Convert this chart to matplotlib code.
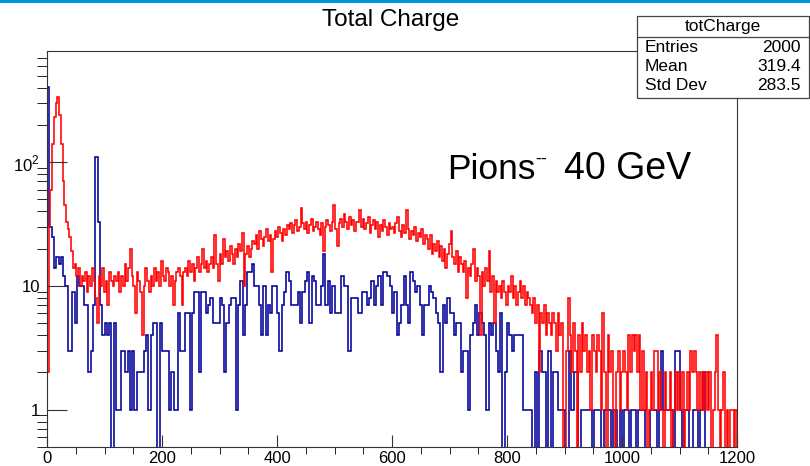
import numpy as np
import matplotlib
matplotlib.use('Agg')
from matplotlib import pyplot as plt
from matplotlib.patches import Rectangle
from matplotlib.ticker import FixedLocator, FixedFormatter, MultipleLocator

plt.rcParams['font.family'] = ['Liberation Sans', 'DejaVu Sans']
plt.rcParams['mathtext.fontset'] = 'custom'
plt.rcParams['mathtext.rm'] = 'Liberation Sans'

# x range of both histograms
xmin, xmax = 0, 1200

# totCharge (blue), 300 bins of width 4
blue_counts = [
    405, 30, 25, 14, 17, 15, 17, 12, 10, 3, 3, 9, 5, 12, 10, 10, 7, 7, 2, 3,
    7, 111, 33, 7, 4, 5, 4, 5, 0, 5, 1, 1, 3, 3, 2, 3, 1, 3, 1, 2,
    2, 2, 3, 4, 1, 4, 5, 5, 0, 5, 3, 3, 3, 1, 2, 1, 1, 6, 3, 3,
    6, 6, 1, 6, 9, 9, 2, 9, 9, 6, 7, 8, 5, 5, 5, 8, 7, 2, 5, 7,
    8, 8, 1, 7, 11, 4, 7, 13, 13, 15, 10, 10, 7, 4, 10, 4, 7, 6, 10, 10,
    6, 3, 7, 9, 13, 11, 7, 7, 7, 9, 5, 9, 11, 13, 5, 12, 11, 7, 7, 10,
    18, 7, 11, 6, 10, 6, 6, 6, 12, 10, 10, 3, 8, 8, 8, 6, 6, 9, 9, 7,
    8, 11, 7, 10, 12, 7, 13, 13, 12, 10, 6, 9, 4, 5, 7, 12, 7, 5, 13, 11,
    9, 10, 7, 4, 7, 7, 10, 9, 8, 6, 5, 2, 7, 5, 8, 6, 6, 4, 5, 5,
    2, 3, 3, 1, 4, 5, 7, 4, 6, 5, 4, 1, 5, 4, 5, 3, 2, 6, 0, 2,
    5, 4, 3, 4, 4, 4, 4, 1, 1, 1, 1, 0, 2, 0, 3, 2, 2, 0, 3, 0,
    2, 2, 1, 1, 1, 0, 0, 3, 1, 2, 2, 0, 1, 1, 1, 1, 1, 0, 1, 1,
    1, 0, 1, 1, 1, 0, 1, 1, 0, 1, 0, 1, 1, 0, 1, 1, 0, 1, 1, 1,
    0, 0, 1, 1, 1, 0, 1, 3, 1, 1, 1, 1, 0, 3, 3, 1, 0, 1, 1, 0,
    0, 1, 1, 0, 1, 2, 0, 0, 0, 0, 0, 0, 0, 0, 0, 0, 0, 0, 0, 0,
]

# second histogram (red), 400 bins of width 3
red_counts = [
    2, 30, 60, 140, 230, 300, 336, 240, 140, 70, 45, 33, 29, 25, 19, 14, 15, 12, 14, 10,
    12, 11, 13, 9, 12, 10, 14, 11, 8, 5, 12, 10, 14, 9, 11, 7, 13, 11, 10, 12,
    11, 13, 9, 12, 10, 15, 11, 14, 20, 12, 10, 6, 13, 11, 9, 4, 10, 14, 11, 9,
    12, 10, 14, 11, 13, 10, 16, 12, 11, 14, 13, 10, 12, 7, 11, 13, 14, 12, 7, 13,
    14, 12, 16, 13, 15, 11, 14, 17, 13, 15, 20, 14, 16, 13, 15, 17, 14, 26, 15, 11,
    18, 15, 24, 17, 19, 16, 21, 18, 15, 20, 17, 22, 19, 27, 10, 18, 21, 17, 20, 23,
    22, 26, 20, 28, 24, 21, 25, 29, 23, 26, 13, 24, 28, 25, 30, 27, 23, 29, 26, 31,
    29, 32, 27, 31, 34, 28, 30, 43, 32, 29, 33, 27, 31, 35, 28, 30, 33, 29, 26, 32,
    19, 30, 34, 31, 28, 33, 45, 29, 21, 32, 35, 30, 38, 33, 29, 36, 31, 34, 28, 33,
    33, 41, 30, 35, 29, 32, 36, 27, 31, 34, 29, 33, 25, 31, 28, 34, 30, 26, 32, 29,
    30, 27, 32, 36, 28, 25, 31, 27, 41, 29, 24, 28, 26, 30, 23, 27, 25, 29, 22, 26,
    24, 20, 26, 18, 22, 19, 23, 17, 21, 16, 20, 14, 18, 22, 28, 17, 15, 19, 13, 17,
    15, 13, 16, 8, 14, 12, 15, 20, 11, 14, 12, 4, 13, 10, 14, 11, 19, 9, 12, 5,
    11, 9, 10, 8, 11, 9, 7, 10, 9, 12, 8, 10, 7, 9, 11, 8, 10, 7, 9, 8,
    7, 6, 8, 5, 7, 2, 6, 5, 7, 4, 6, 5, 4, 6, 5, 3, 6, 4, 5, 0,
    0, 3, 8, 4, 2, 5, 3, 0, 4, 2, 5, 3, 4, 2, 3, 1, 4, 3, 2, 4,
    3, 1, 6, 2, 0, 4, 2, 3, 1, 0, 2, 3, 1, 2, 3, 2, 1, 4, 2, 4,
    3, 4, 2, 4, 1, 3, 1, 2, 0, 1, 2, 1, 3, 3, 1, 2, 1, 0, 2, 1,
    1, 2, 0, 1, 2, 1, 2, 1, 2, 0, 1, 2, 1, 3, 2, 3, 2, 1, 2, 1,
    2, 1, 2, 1, 2, 0, 1, 2, 4, 1, 0, 1, 2, 0, 1, 0, 1, 1, 0, 1,
]

title = 'Total Charge'
stats_name = 'totCharge'
stats_rows = [('Entries', '2000'), ('Mean', '319.4'), ('Std Dev', '283.5')]
xticks = [0, 200, 400, 600, 800, 1000, 1200]
yticks = [1, 10, 100]
ytick_labels = ['1', '10', '$10^2$']

W, H = 810, 466


# convert image pixel coords to figure fraction
def fx(px):
    return px / W


def fy(py):
    return 1 - py / H


def draw_hist(ax, counts, color):
    counts = np.array(counts, dtype=float)
    edges = np.linspace(xmin, xmax, len(counts) + 1)
    # empty bins drop to the bottom of the frame like ROOT does
    vals = np.where(counts > 0, counts, 1e-3)
    ax.stairs(vals, edges, baseline=1e-3, color=color, lw=1.15)


fig = plt.figure(figsize=(W / 100, H / 100), dpi=100)
ax = fig.add_axes([fx(47), fy(447), fx(737) - fx(47), fy(51) - fy(447)])

draw_hist(ax, blue_counts, '#000099')
draw_hist(ax, red_counts, '#ff0000')

ax.set_yscale('log')
ax.set_xlim(xmin, xmax)
ax.set_ylim(0.5, 790)

ax.xaxis.set_major_locator(FixedLocator(xticks))
ax.xaxis.set_minor_locator(MultipleLocator(50))
ax.yaxis.set_major_locator(FixedLocator(yticks))
ax.yaxis.set_major_formatter(FixedFormatter(ytick_labels))
minor = [m * 10 ** e for e in range(-1, 3) for m in range(2, 10)]
ax.yaxis.set_minor_locator(FixedLocator(minor))
ax.yaxis.set_minor_formatter(FixedFormatter([''] * len(minor)))

ax.tick_params(direction='in', labelsize=12, color='#333333', width=0.8)
ax.tick_params(axis='y', which='major', length=14.4, pad=5)
ax.tick_params(axis='y', which='minor', length=7.2)
ax.tick_params(axis='x', which='major', length=8.6, pad=3)
ax.tick_params(axis='x', which='minor', length=5)
ax.tick_params(top=False, right=False)
for s in ax.spines.values():
    s.set_linewidth(0.8)
    s.set_color('#333333')

# title and label text
fig.text(fx(391), fy(20), title, ha='center', va='center', fontsize=17.5)
fig.text(fx(447), fy(179), 'Pions', ha='left', va='baseline', fontsize=25.5)
fig.text(fx(535), fy(164), '--', ha='left', va='baseline', fontsize=13)
fig.text(fx(564), fy(179), '40 GeV', ha='left', va='baseline', fontsize=27)

# stats box
bx0, by0, bx1, by1 = 637, 16, 809, 98
fig.add_artist(Rectangle((fx(bx0), fy(by1)), fx(bx1) - fx(bx0), fy(by0) - fy(by1),
                         transform=fig.transFigure, facecolor='white',
                         edgecolor='#444444', lw=0.9, zorder=5))
fig.add_artist(plt.Line2D([fx(bx0), fx(bx1)], [fy(37), fy(37)],
                          transform=fig.transFigure, color='#444444', lw=0.9, zorder=6))
fig.text(fx(723), fy(27), stats_name, ha='center', va='center', fontsize=12.5, zorder=7)
for i, (name, val) in enumerate(stats_rows):
    yy = fy(47 + 19.5 * i)
    fig.text(fx(645), yy, name, ha='left', va='center', fontsize=12.5, zorder=7)
    fig.text(fx(801), yy, val, ha='right', va='center', fontsize=12.5, zorder=7)

# thin blue strip along the top edge of the canvas
fig.add_artist(Rectangle((0, fy(3)), 1, fy(0) - fy(3), transform=fig.transFigure,
                         facecolor='#0096dc', edgecolor='none'))

fig.savefig('out.png', dpi=100)
